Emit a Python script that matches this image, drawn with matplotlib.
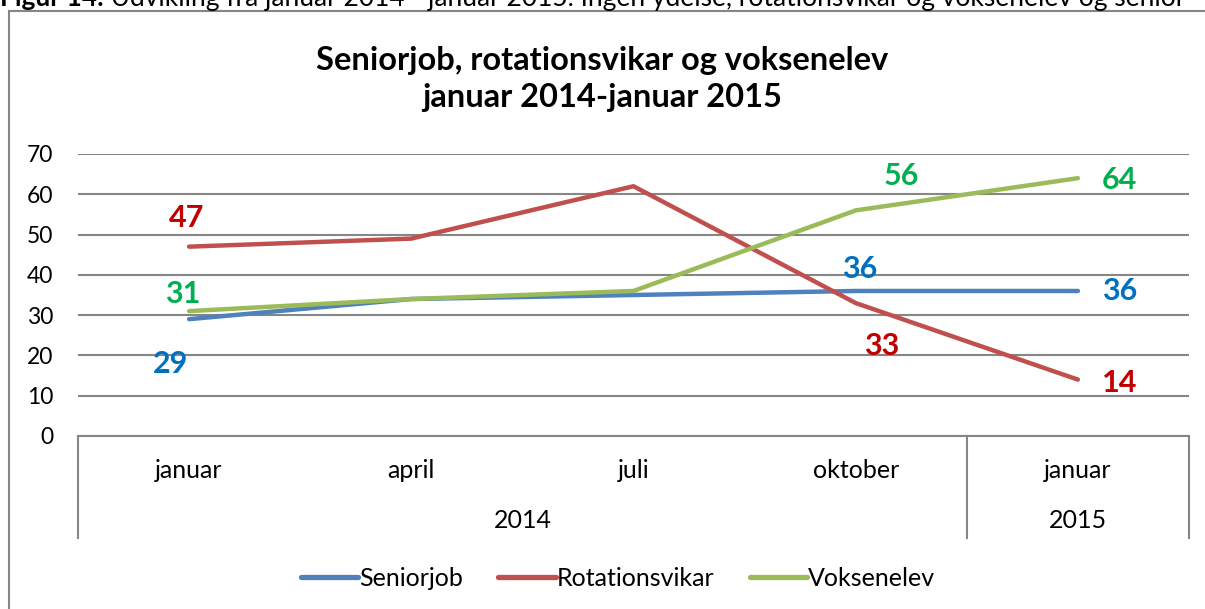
import matplotlib
matplotlib.use("Agg")
import matplotlib.pyplot as plt
from matplotlib.lines import Line2D

plt.rcParams['font.family'] = ['Lato', 'DejaVu Sans']

# ---- data ----
months = ["januar", "april", "juli", "oktober", "januar"]
years = ["2014", "2015"]
year_span = [(0, 3), (4, 4)]
seniorjob = [29, 34, 35, 36, 36]
rotationsvikar = [47, 49, 62, 33, 14]
voksenelev = [31, 34, 36, 56, 64]
series_names = ["Seniorjob", "Rotationsvikar", "Voksenelev"]
title = "Seniorjob, rotationsvikar og voksenelev\njanuar 2014-januar 2015"
caption_bold = "Figur 14:"
caption = " Udvikling fra januar 2014 - januar 2015. Ingen ydelse, rotationsvikar og voksenelev og senior"

# labelled points: (series index, point index, dx px, dy px)
labels = [
    (0, 0, -19, -45), (0, 3, 4, 22), (0, 4, 42, 0),
    (1, 0, -3, 29), (1, 3, 26, -43), (1, 4, 42, -3),
    (2, 0, -6, 17), (2, 3, 46, 34), (2, 4, 42, -2),
]

line_colors = ["#4F81BD", "#C0504D", "#9BBB59"]
label_colors = ["#0070C0", "#C00000", "#00B050"]
grid_col = "#868686"

W, H = 1205, 609
fig = plt.figure(figsize=(W / 100, H / 100), dpi=100)

def fx(px):
    return px / W

def fy(py):
    return 1 - py / H

# outer chart frame (left and top edges visible)
fig.add_artist(Line2D([fx(9), fx(9)], [fy(11), fy(700)], color=grid_col, lw=1.5))
fig.add_artist(Line2D([fx(9), fx(1300)], [fy(11), fy(11)], color=grid_col, lw=1.5))

# caption cut at the top (as in the reference)
t1 = fig.text(fx(0), fy(6), caption_bold, fontsize=19, fontweight='bold', va='baseline', ha='left')
fig.canvas.draw()
bb = t1.get_window_extent()
fig.text(bb.x1 / W, fy(6), caption, fontsize=19, va='baseline', ha='left')

left, right, top, bottom = 78, 1189, 154, 436
ax = fig.add_axes([fx(left), fy(bottom), fx(right - left), (bottom - top) / H])
ax.set_xlim(-0.5, 4.5)
ax.set_ylim(0, 70)
ax.set_yticks(range(0, 71, 10))
ax.yaxis.grid(True, color=grid_col, lw=1.5)
ax.set_axisbelow(True)
ax.tick_params(axis='y', length=0, pad=18, labelsize=16.5)
ax.set_xticks([])
for s in ax.spines.values():
    s.set_visible(False)

x = list(range(len(months)))
data = [seniorjob, rotationsvikar, voksenelev]
for vals, col, name in zip(data, line_colors, series_names):
    ax.plot(x, vals, color=col, lw=3.2, solid_capstyle='round', label=name, zorder=3)

for si, pi, dx, dy in labels:
    ax.annotate(str(data[si][pi]), (x[pi], data[si][pi]), xytext=(dx, dy),
                textcoords='offset pixels', ha='center', va='center',
                fontsize=22, fontweight='bold', color=label_colors[si], zorder=4)

# multi-level category axis
box_h = (538 - bottom) / (bottom - top)
trans = ax.get_xaxis_transform()
ax.plot([-0.5, 4.5], [0, 0], transform=trans, color=grid_col, lw=1.5, clip_on=False)
for xv in [-0.5, 3.5, 4.5]:
    ax.plot([xv, xv], [0, -box_h], transform=trans, color=grid_col, lw=1.5, clip_on=False)
for xi, m in zip(x, months):
    ax.text(xi, -(470 - bottom) / (bottom - top), m, transform=trans, ha='center', va='center',
            fontsize=18)
for (a, b), yr in zip(year_span, years):
    ax.text((a + b) / 2, -(521 - bottom) / (bottom - top), yr, transform=trans, ha='center',
            va='center', fontsize=18)

fig.text(fx(602), fy(79), title, ha='center', va='center', fontsize=23.5, fontweight='bold',
         linespacing=1.3)

leg = fig.legend(loc='center', bbox_to_anchor=(fx(618), fy(578)), ncol=3, frameon=False,
                 fontsize=18, handlelength=2.3, handletextpad=0.05, columnspacing=1.4)
for h in leg.get_lines():
    h.set_linewidth(3.8)

fig.savefig("out.png", dpi=100)
